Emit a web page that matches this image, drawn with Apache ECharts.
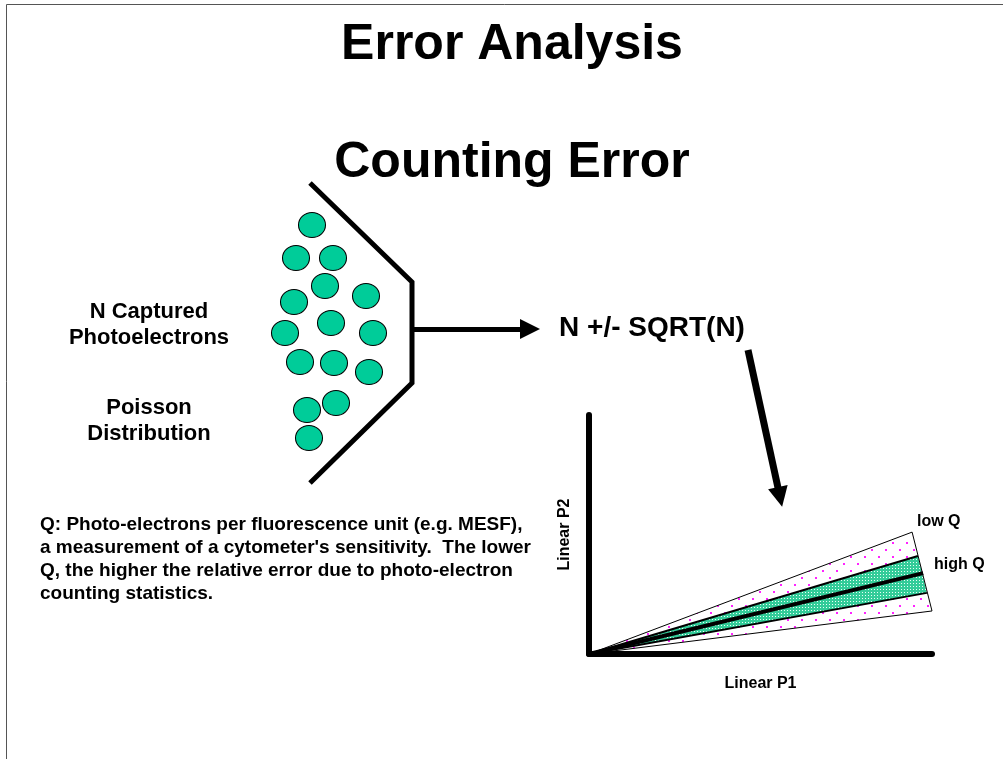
<!DOCTYPE html>
<html>
<head>
<meta charset="utf-8">
<title>Error Analysis - Counting Error</title>
<script src="https://cdn.jsdelivr.net/npm/echarts@6/dist/echarts.min.js"></script>
<style>
  html, body { margin: 0; padding: 0; background: #fff; }
  #chart { width: 1003px; height: 759px; }
</style>
</head>
<body>
<div id="chart"></div>
<script>
// ==============================================================
// Data
// ==============================================================

// captured photo-electrons (page pixel coords, y down)
var photoelectrons = [
  [312, 225], [296, 258], [333, 258], [325, 286], [366, 296],
  [294, 302], [331, 323], [285, 333], [373, 333], [300, 362],
  [334, 363], [369, 372], [336, 403], [307, 410], [309, 438]
];
var collectorPath = [[310, 183], [412, 282], [412, 383], [310, 483]];
var arrowRight = [[412, 329], [530, 329]];
var arrowDown = [[748, 350], [780, 497]];

// Linear P1 vs Linear P2 wedge (end points of each ray)
var wedgeOrigin = [0, 0];
var lowQUpper = [94.2, 35.7];
var highQUpper = [95.9, 28.7];
var meanLine = [97.4, 23.7];
var highQLower = [98.5, 17.9];
var lowQLower = [100, 12.6];

var FONT = '"Liberation Sans", Arial, Helvetica, sans-serif';

function dotPattern(w, h, bg, color, dots, size) {
  var c = document.createElement('canvas');
  c.width = w; c.height = h;
  var ctx = c.getContext('2d');
  if (bg) { ctx.fillStyle = bg; ctx.fillRect(0, 0, w, h); }
  ctx.fillStyle = color;
  dots.forEach(function (d) { ctx.fillRect(d[0], d[1], size, size); });
  return { image: c, repeat: 'repeat' };
}

var magentaDots = dotPattern(14, 14, null, '#ff22ff', [[3, 3], [10, 10]], 2);
var tealDots = dotPattern(3, 3, '#33cc99', '#e8fff6', [[1, 1]], 1);

function band(points, fill) {
  return {
    type: 'custom',
    xAxisIndex: 0, yAxisIndex: 0,
    silent: true,
    data: [wedgeOrigin],
    renderItem: function (params, api) {
      return {
        type: 'polygon',
        shape: { points: points.map(function (p) { return api.coord(p); }) },
        style: { fill: fill, stroke: null }
      };
    }
  };
}

function ray(end, width, start) {
  return {
    type: 'line',
    xAxisIndex: 0, yAxisIndex: 0,
    data: [start || wedgeOrigin, end],
    symbol: 'none',
    silent: true,
    lineStyle: { color: '#000', width: width }
  };
}

var myChart = echarts.init(document.getElementById('chart'));

option = {
  backgroundColor: '#fff',
  animation: false,
  grid: [
    { left: 589, top: 415, width: 343, height: 239, outerBoundsMode: 'none' },
    { left: 0, top: 0, width: 1003, height: 759, outerBoundsMode: 'none' }
  ],
  xAxis: [
    {
      gridIndex: 0, type: 'value', min: 0, max: 100,
      axisLine: { show: true, lineStyle: { color: '#000', width: 6 } },
      axisTick: { show: false }, axisLabel: { show: false }, splitLine: { show: false },
      name: 'Linear P1', nameLocation: 'middle', nameGap: 22,
      nameTextStyle: { fontFamily: FONT, fontWeight: 'bold', fontSize: 16, color: '#000' }
    },
    { gridIndex: 1, type: 'value', min: 0, max: 1003, show: false }
  ],
  yAxis: [
    {
      gridIndex: 0, type: 'value', min: 0, max: 70,
      axisLine: { show: true, lineStyle: { color: '#000', width: 6 } },
      axisTick: { show: false }, axisLabel: { show: false }, splitLine: { show: false },
      name: 'Linear P2', nameLocation: 'middle', nameGap: 16, nameRotate: 90,
      nameTextStyle: { fontFamily: FONT, fontWeight: 'bold', fontSize: 16, color: '#000' }
    },
    { gridIndex: 1, type: 'value', min: 0, max: 759, inverse: true, show: false }
  ],
  series: [
    band([wedgeOrigin, lowQUpper, lowQLower], magentaDots),
    band([wedgeOrigin, highQUpper, highQLower], tealDots),
    ray(lowQUpper, 1),
    ray(lowQLower, 1),
    ray(highQUpper, 2),
    ray(highQLower, 2),
    ray(meanLine, 4),
    ray(lowQLower, 1, lowQUpper),
    {
      type: 'line',
      xAxisIndex: 1, yAxisIndex: 1,
      data: collectorPath,
      symbol: 'none', silent: true,
      lineStyle: { color: '#000', width: 5, join: 'miter' }
    },
    {
      type: 'scatter',
      xAxisIndex: 1, yAxisIndex: 1,
      data: photoelectrons,
      symbol: 'circle', symbolSize: [27, 25], silent: true,
      itemStyle: { color: '#00cc99', borderColor: '#000', borderWidth: 1, opacity: 1 }
    },
    {
      type: 'lines',
      coordinateSystem: 'cartesian2d',
      xAxisIndex: 1, yAxisIndex: 1,
      symbol: ['none', 'triangle'], symbolSize: [17, 20], silent: true,
      lineStyle: { color: '#000', width: 5, opacity: 1 },
      data: [{ coords: arrowRight }]
    },
    {
      type: 'lines',
      coordinateSystem: 'cartesian2d',
      xAxisIndex: 1, yAxisIndex: 1,
      symbol: ['none', 'triangle'], symbolSize: [19, 20], silent: true,
      lineStyle: { color: '#000', width: 7, opacity: 1 },
      data: [{ coords: arrowDown }]
    }
  ],
  graphic: [
    {
      type: 'polyline', silent: true,
      shape: { points: [[6.5, 759], [6.5, 4.5], [1003, 4.5]] },
      style: { stroke: '#555', lineWidth: 1, fill: null }
    },
    {
      type: 'text', x: 512, y: 45,
      style: { text: 'Error Analysis', font: 'bold 50px ' + FONT, fill: '#000', textAlign: 'center', textVerticalAlign: 'middle' }
    },
    {
      type: 'text', x: 512, y: 163,
      style: { text: 'Counting Error', font: 'bold 50px ' + FONT, fill: '#000', textAlign: 'center', textVerticalAlign: 'middle' }
    },
    {
      type: 'text', x: 149, y: 325,
      style: { text: 'N Captured\nPhotoelectrons', font: 'bold 22px ' + FONT, lineHeight: 26, fill: '#000', textAlign: 'center', textVerticalAlign: 'middle' }
    },
    {
      type: 'text', x: 149, y: 421,
      style: { text: 'Poisson\nDistribution', font: 'bold 22px ' + FONT, lineHeight: 26, fill: '#000', textAlign: 'center', textVerticalAlign: 'middle' }
    },
    {
      type: 'text', x: 652, y: 328,
      style: { text: 'N +/- SQRT(N)', font: 'bold 28px ' + FONT, fill: '#000', textAlign: 'center', textVerticalAlign: 'middle' }
    },
    {
      type: 'text', x: 40, y: 513,
      style: {
        text: "Q: Photo-electrons per fluorescence unit (e.g. MESF),\na measurement of a cytometer's sensitivity.  The lower\nQ, the higher the relative error due to photo-electron\ncounting statistics.",
        font: 'bold 19px ' + FONT, lineHeight: 23, fill: '#000', textAlign: 'left', textVerticalAlign: 'top'
      }
    },
    {
      type: 'text', x: 917, y: 522,
      style: { text: 'low Q', font: 'bold 16px ' + FONT, fill: '#000', textAlign: 'left', textVerticalAlign: 'middle' }
    },
    {
      type: 'text', x: 934, y: 565,
      style: { text: 'high Q', font: 'bold 16px ' + FONT, fill: '#000', textAlign: 'left', textVerticalAlign: 'middle' }
    }
  ]
};

myChart.setOption(option, true);
</script>
</body>
</html>
